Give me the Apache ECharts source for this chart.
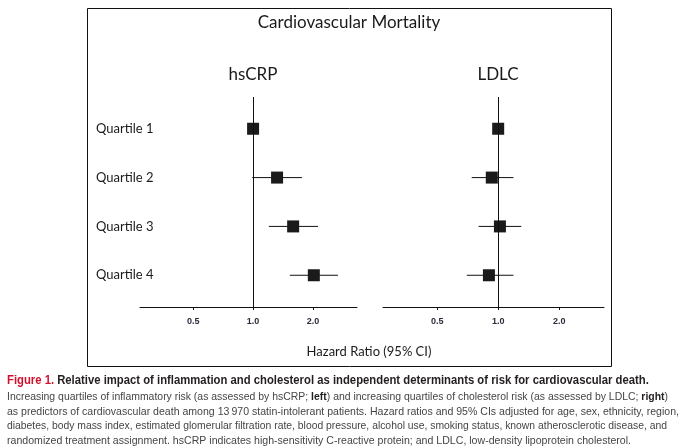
<!DOCTYPE html>
<html><head><meta charset="utf-8">
<script src="https://cdn.jsdelivr.net/npm/echarts@6/dist/echarts.min.js"></script>
<style>html,body{margin:0;padding:0;background:#fff}#c{width:690px;height:448px}</style>
</head><body><div id="c"></div>
<script>
// ---- data ----
var quartiles = ['Quartile 1', 'Quartile 2', 'Quartile 3', 'Quartile 4'];
var quartilePos = [4, 3, 2, 1];
var hsCRP_hr = [1.0, 1.32, 1.59, 2.02];
var hsCRP_lo = [null, 0.99, 1.20, 1.53];
var hsCRP_hi = [null, 1.76, 2.12, 2.67];
var ldlc_hr = [1.0, 0.93, 1.02, 0.90];
var ldlc_lo = [null, 0.74, 0.80, 0.70];
var ldlc_hi = [null, 1.19, 1.30, 1.19];
var xTicks = [0.5, 1.0, 2.0];
var panelTitles = ['hsCRP', 'LDLC'];

var chart = echarts.init(document.getElementById('c'), null, {renderer: 'canvas'});
var FONT = 'Lato, "Open Sans", sans-serif';
var CAP = '"Liberation Sans", Arial, sans-serif';

var mctx = document.createElement('canvas').getContext('2d');
function measure(font, txt) { mctx.font = font; return mctx.measureText(txt).width; }

var capTitleR = 'Figure 1.';
var capTitleB = 'Relative impact of inflammation and cholesterol as independent determinants of risk for cardiovascular death.';
var body = [
  'Increasing quartiles of inflammatory risk (as assessed by hsCRP; left) and increasing quartiles of cholesterol risk (as assessed by LDLC; right)',
  'as predictors of cardiovascular death among 13\u2009970 statin-intolerant patients. Hazard ratios and 95% CIs adjusted for age, sex, ethnicity, region,',
  'diabetes, body mass index, estimated glomerular filtration rate, blood pressure, alcohol use, smoking status, known atherosclerotic disease, and',
  'randomized treatment assignment. hsCRP indicates high-sensitivity C-reactive protein; and LDLC, low-density lipoprotein cholesterol.'
];
var bodyEnds = [668, 679, 667, 631];
var titleFont = 'bold 12.5px ' + CAP;
var bodyFont = '11.5px ' + CAP;
var boldBody = 'bold 11.5px ' + CAP;
var titleScale = 642 / measure(titleFont, capTitleR + ' ' + capTitleB);

function lineWidth(i) {
  if (i === 0) {
    var plain = body[0].replace('left', '').replace('right', '');
    return measure(bodyFont, plain) + measure(boldBody, 'left') + measure(boldBody, 'right');
  }
  return measure(bodyFont, body[i]);
}

function xAxisDef(idx) {
  return {
    type: 'log', logBase: 2, gridIndex: idx, min: 0.27, max: 3.33,
    axisLine: {show: true, lineStyle: {color: '#111', width: 1}},
    axisTick: {show: true, length: 3, lineStyle: {color: '#111'}, customValues: xTicks},
    axisLabel: {show: true, customValues: xTicks, margin: 10, fontSize: 9, fontWeight: 'bold',
      fontFamily: 'Arial, "Liberation Sans", sans-serif', color: '#2b2b3b',
      formatter: function (v) { return Number(v).toFixed(1); }},
    splitLine: {show: false}
  };
}
function yAxisDef(idx, showLabels) {
  return {
    type: 'value', gridIndex: idx, min: 0.35, max: 4.65,
    axisLine: {show: false}, axisTick: {show: false}, splitLine: {show: false},
    axisLabel: {show: showLabels, customValues: quartilePos, align: 'left', margin: 44,
      fontSize: 13, fontFamily: FONT, color: '#1a1a1a',
      formatter: function (v) { var i = quartilePos.indexOf(Math.round(v)); return i >= 0 ? quartiles[i] : ''; }}
  };
}
function ciData(lo, hi) {
  var d = [];
  for (var i = 0; i < quartiles.length; i++) if (lo[i] != null) d.push([lo[i], hi[i], quartilePos[i]]);
  return d;
}
function ptData(hr) { return hr.map(function (v, i) { return [v, quartilePos[i]]; }); }
function ciSeries(idx, lo, hi) {
  return {
    type: 'custom', xAxisIndex: idx, yAxisIndex: idx, data: ciData(lo, hi), z: 2,
    renderItem: function (params, api) {
      var a = api.coord([api.value(0), api.value(2)]);
      var b = api.coord([api.value(1), api.value(2)]);
      return {type: 'line', shape: {x1: a[0], y1: a[1], x2: b[0], y2: b[1]},
        style: {stroke: '#111', lineWidth: 1}};
    }
  };
}
function ptSeries(idx, hr) {
  return {
    type: 'scatter', xAxisIndex: idx, yAxisIndex: idx, data: ptData(hr), z: 3,
    symbol: 'rect', symbolSize: 12, itemStyle: {color: '#1a1a1a', opacity: 1},
    markLine: {silent: true, symbol: ['none', 'none'], label: {show: false},
      lineStyle: {color: '#111', width: 1, type: 'solid'}, data: [{xAxis: 1}]},
    emphasis: {disabled: true}
  };
}
function bodyText(i, y, rich) {
  var t = body[i];
  if (rich) t = t.replace('; left)', '; {k|left})').replace('; right)', '; {k|right})');
  var st = {text: t, textVerticalAlign: 'middle', fill: '#454545', font: bodyFont};
  if (rich) st.rich = {k: {fill: '#231f20', font: boldBody}};
  return {type: 'text', x: 7, y: y, scaleX: (bodyEnds[i] - 7) / lineWidth(i), style: st};
}

var option = {
  animation: false,
  grid: [
    {left: 140, top: 97, width: 217, height: 210},
    {left: 383, top: 97, width: 221, height: 210}
  ],
  xAxis: [xAxisDef(0), xAxisDef(1)],
  yAxis: [yAxisDef(0, true), yAxisDef(1, false)],
  series: [ciSeries(0, hsCRP_lo, hsCRP_hi), ptSeries(0, hsCRP_hr),
           ciSeries(1, ldlc_lo, ldlc_hi), ptSeries(1, ldlc_hr)],
  graphic: [
    {type: 'rect', shape: {x: 87.5, y: 8.5, width: 524, height: 358}, style: {fill: 'none', stroke: '#111', lineWidth: 1}, z: -1},
    {type: 'text', x: 349, y: 23, style: {text: 'Cardiovascular Mortality', font: '17px ' + FONT, fill: '#1a1a1a', textAlign: 'center', textVerticalAlign: 'middle'}},
    {type: 'text', x: 253, y: 75, style: {text: panelTitles[0], font: '17px ' + FONT, fill: '#1a1a1a', textAlign: 'center', textVerticalAlign: 'middle'}},
    {type: 'text', x: 498, y: 75, style: {text: panelTitles[1], font: '17px ' + FONT, fill: '#1a1a1a', textAlign: 'center', textVerticalAlign: 'middle'}},
    {type: 'text', x: 369, y: 352, style: {text: 'Hazard Ratio (95% CI)', font: '13px ' + FONT, fill: '#1a1a1a', textAlign: 'center', textVerticalAlign: 'middle'}},
    {type: 'text', x: 7, y: 381, scaleX: titleScale, style: {
      text: '{r|' + capTitleR + '} {b|' + capTitleB + '}',
      textVerticalAlign: 'middle',
      rich: {
        r: {fill: '#d0112b', font: titleFont},
        b: {fill: '#231f20', font: titleFont}
      }}},
    bodyText(0, 397, true),
    bodyText(1, 411.5, false),
    bodyText(2, 426, false),
    bodyText(3, 440.5, false)
  ]
};
chart.setOption(option);
</script>
</body></html>
